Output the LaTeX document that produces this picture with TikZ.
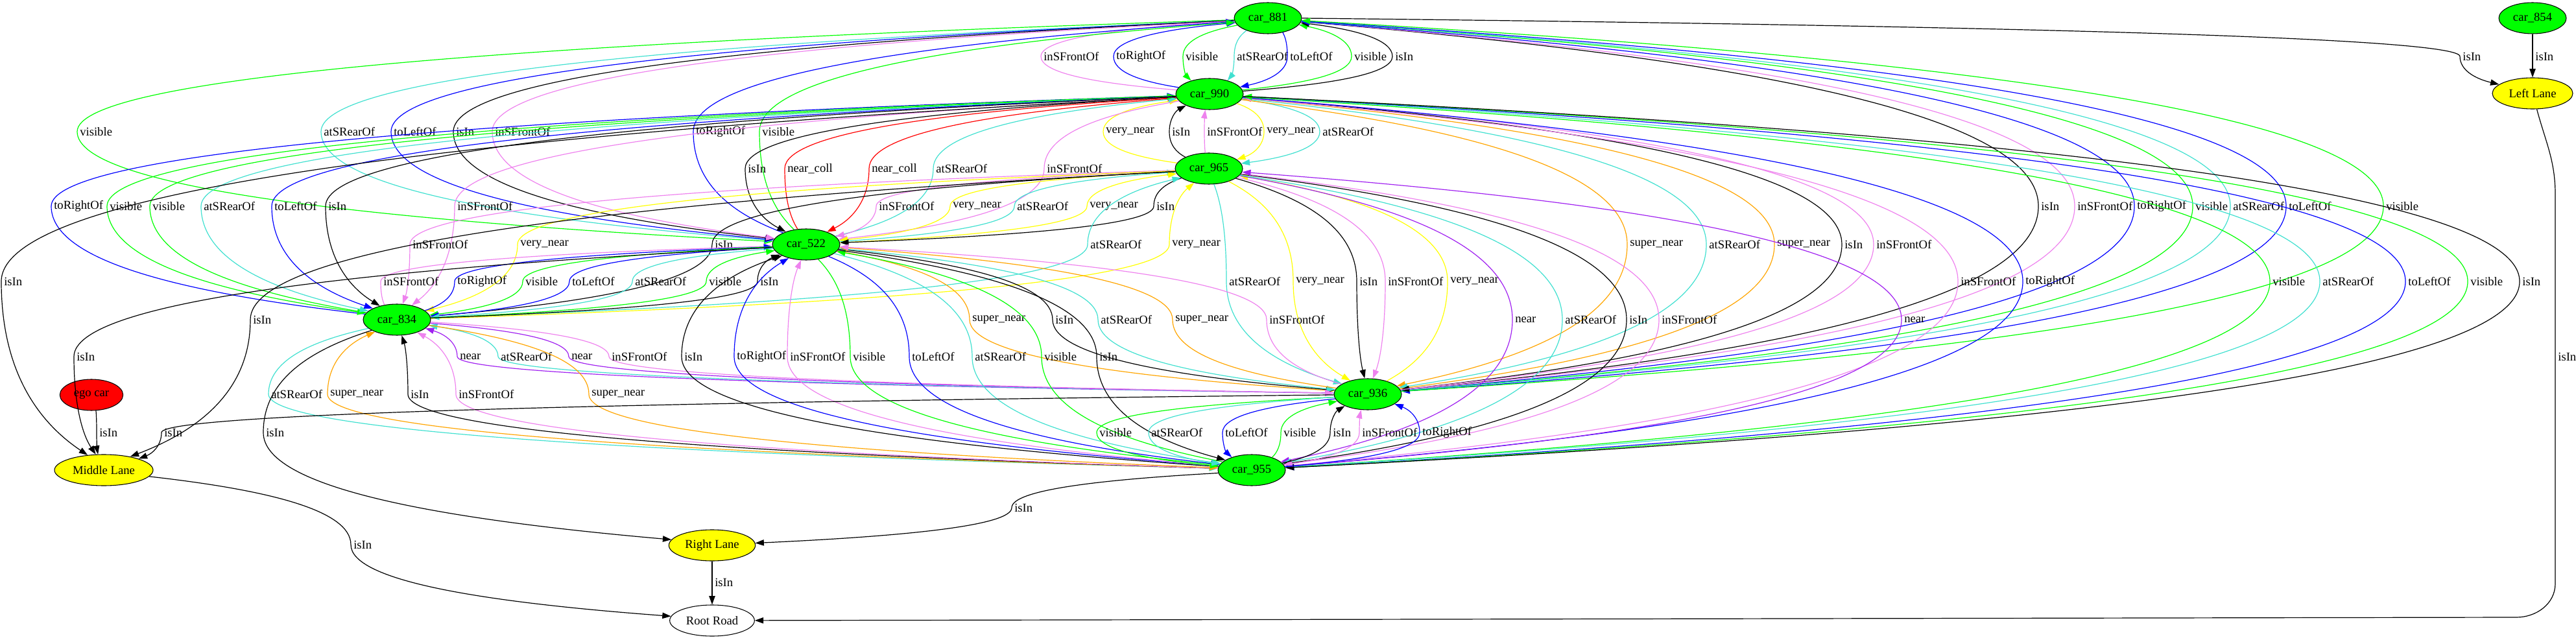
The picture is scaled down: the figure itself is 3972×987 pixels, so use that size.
\documentclass[tikz,border=0pt]{standalone}
\usepackage{fontspec}
\setmainfont{Liberation Serif}
\usetikzlibrary{arrows.meta,shapes.geometric,calc}
\definecolor{gvgreen}{HTML}{00FF00}
\definecolor{gvblue}{HTML}{0000FF}
\definecolor{gvturq}{HTML}{40E0D0}
\definecolor{gvviolet}{HTML}{EE82EE}
\definecolor{gvpurple}{HTML}{A020F0}
\definecolor{gvyellow}{HTML}{FFFF00}
\definecolor{gvorange}{HTML}{FFA500}
\definecolor{gvred}{HTML}{FF0000}
\tikzset{
  carnode/.style={ellipse, draw, line width=0.8pt, fill=gvgreen, minimum width=78pt, minimum height=36pt, inner sep=0pt},
  lanenode/.style={carnode, fill=gvyellow},
  egonode/.style={carnode, fill=gvred},
  roadnode/.style={carnode, fill=white},
  relline/.style={line width=0.9pt, -{Triangle[length=10pt,width=7pt]}},
  rellabel/.style={anchor=west, inner sep=0pt}
}
% colour, from, to, label x, label y, label
\newcommand{\sgrel}[6]{%
  \draw[relline, #1] let \p1=(#2), \p2=(#4-4,#5), \p3=(#3),
    \n1={atan2(0.5*(\y2-\y1),\x2-\x1)}, \n2={atan2(0.5*(\y2-\y3),\x2-\x3)},
    \p4=(#2.\n1), \p5=(#3.\n2) in
    (\p4) .. controls ({\x4+0.6*(\x2-\x4)},{\y4+0.2*(\y2-\y4)})
      and (\x2,{\y2+0.5*(\y4-\y2)}) .. (\p2)
    .. controls (\x2,{\y2+0.5*(\y5-\y2)})
      and ({\x5+0.6*(\x2-\x5)},{\y5+0.2*(\y2-\y5)}) .. (\p5);
  \node[rellabel] (lb-#4-#5) at (#4,#5) {#6};
}

\begin{document}
\begin{tikzpicture}[x=0.75pt, y=-0.75pt, font=\fontsize{14}{16}\selectfont]
  \useasboundingbox (0,0) rectangle (3972,987);
  \node[carnode] (c881) at (1955,28) {car\_881};
  \node[carnode] (c854) at (3905,28) {car\_854};
  \node[carnode] (c990) at (1865,145) {car\_990};
  \node[lanenode, minimum width=93pt] (leftlane) at (3905,144) {Left Lane};
  \node[carnode] (c965) at (1864,260) {car\_965};
  \node[carnode] (c522) at (1243,377) {car\_522};
  \node[carnode] (c834) at (612,493) {car\_834};
  \node[egonode, minimum width=73pt] (ego) at (141,609) {ego car};
  \node[carnode] (c936) at (2109,608) {car\_936};
  \node[lanenode, minimum width=114pt] (midlane) at (160,725) {Middle Lane};
  \node[carnode] (c955) at (1930,725) {car\_955};
  \node[lanenode, minimum width=100pt] (rightlane) at (1098,841) {Right Lane};
  \node[roadnode, minimum width=98pt] (rootroad) at (1098,957) {Root Road};

  \sgrel{gvviolet}{c990}{c881}{1609}{87}{inSFrontOf}
  \sgrel{gvblue}{c990}{c881}{1721}{87}{toRightOf}
  \sgrel{gvgreen}{c881}{c990}{1828}{87}{visible}
  \sgrel{gvturq}{c881}{c990}{1907}{87}{atSRearOf}
  \sgrel{gvblue}{c881}{c990}{1989}{87}{toLeftOf}
  \sgrel{gvgreen}{c990}{c881}{2088}{87}{visible}
  \sgrel{black}{c990}{c881}{2151}{87}{isIn}
  \sgrel{black}{c881}{leftlane}{3797}{87}{isIn}
  \sgrel{black}{c854}{leftlane}{3909}{87}{isIn}

  \sgrel{gvgreen}{c881}{c522}{123}{203}{visible}
  \sgrel{gvturq}{c881}{c522}{499}{203}{atSRearOf}
  \sgrel{gvblue}{c881}{c522}{607}{203}{toLeftOf}
  \sgrel{black}{c881}{c522}{703}{203}{isIn}
  \sgrel{gvviolet}{c881}{c522}{763}{203}{inSFrontOf}
  \sgrel{gvblue}{c522}{c881}{1073}{203}{toRightOf}
  \sgrel{gvgreen}{c522}{c881}{1175}{203}{visible}
  \sgrel{gvyellow}{c965}{c990}{1705}{203}{very\_near}
  \sgrel{black}{c965}{c990}{1807}{203}{isIn}
  \sgrel{gvviolet}{c965}{c990}{1861}{203}{inSFrontOf}
  \sgrel{gvyellow}{c990}{c965}{1953}{203}{very\_near}
  \sgrel{gvturq}{c990}{c965}{2039}{203}{atSRearOf}

  \sgrel{black}{c990}{c522}{1153}{260}{isIn}
  \sgrel{gvred}{c522}{c990}{1214}{260}{near\_coll}
  \sgrel{gvred}{c990}{c522}{1344}{260}{near\_coll}
  \sgrel{gvturq}{c522}{c990}{1443}{260}{atSRearOf}
  \sgrel{gvviolet}{c990}{c522}{1614}{260}{inSFrontOf}

  \sgrel{gvblue}{c834}{c990}{83}{318}{toRightOf}
  \sgrel{gvgreen}{c990}{c834}{169}{318}{visible}
  \sgrel{gvgreen}{c834}{c990}{235}{318}{visible}
  \sgrel{gvturq}{c990}{c834}{314}{318}{atSRearOf}
  \sgrel{gvblue}{c990}{c834}{423}{318}{toLeftOf}
  \sgrel{black}{c990}{c834}{506}{318}{isIn}
  \sgrel{gvviolet}{c990}{c834}{705}{318}{inSFrontOf}
  \sgrel{gvviolet}{c965}{c522}{1355}{318}{inSFrontOf}
  \sgrel{gvyellow}{c965}{c522}{1469}{318}{very\_near}
  \sgrel{gvturq}{c522}{c965}{1568}{318}{atSRearOf}
  \sgrel{gvyellow}{c522}{c965}{1680}{318}{very\_near}
  \sgrel{black}{c965}{c522}{1783}{318}{isIn}
  \sgrel{black}{c881}{c936}{3147}{318}{isIn}
  \sgrel{gvviolet}{c881}{c936}{3203}{318}{inSFrontOf}
  \sgrel{gvblue}{c936}{c881}{3295}{318}{toRightOf}
  \sgrel{gvgreen}{c881}{c936}{3385}{318}{visible}
  \sgrel{gvturq}{c881}{c936}{3443}{318}{atSRearOf}
  \sgrel{gvblue}{c881}{c936}{3529}{318}{toLeftOf}
  \sgrel{gvgreen}{c936}{c881}{3679}{318}{visible}

  \sgrel{gvviolet}{c965}{c834}{636}{377}{inSFrontOf}
  \sgrel{gvyellow}{c965}{c834}{802}{377}{very\_near}
  \sgrel{black}{c965}{c834}{1102}{377}{isIn}
  \sgrel{gvturq}{c834}{c965}{1681}{377}{atSRearOf}
  \sgrel{gvyellow}{c834}{c965}{1807}{377}{very\_near}
  \sgrel{gvorange}{c990}{c936}{2513}{377}{super\_near}
  \sgrel{gvturq}{c990}{c936}{2635}{377}{atSRearOf}
  \sgrel{gvorange}{c936}{c990}{2740}{377}{super\_near}
  \sgrel{black}{c990}{c936}{2844}{377}{isIn}
  \sgrel{gvviolet}{c936}{c990}{2893}{377}{inSFrontOf}

  \sgrel{black}{c990}{midlane}{6}{434}{isIn}
  \sgrel{gvviolet}{c834}{c522}{591}{434}{inSFrontOf}
  \sgrel{gvblue}{c834}{c522}{705}{434}{toRightOf}
  \sgrel{gvgreen}{c522}{c834}{810}{434}{visible}
  \sgrel{gvblue}{c522}{c834}{882}{434}{toLeftOf}
  \sgrel{gvturq}{c522}{c834}{979}{434}{atSRearOf}
  \sgrel{gvgreen}{c834}{c522}{1093}{434}{visible}
  \sgrel{black}{c834}{c522}{1172}{434}{isIn}
  \sgrel{gvturq}{c965}{c936}{1895}{434}{atSRearOf}
  \sgrel{gvyellow}{c965}{c936}{1998}{434}{very\_near}
  \sgrel{black}{c965}{c936}{2096}{434}{isIn}
  \sgrel{gvviolet}{c965}{c936}{2140}{434}{inSFrontOf}
  \sgrel{gvyellow}{c936}{c965}{2236}{434}{very\_near}
  \sgrel{gvviolet}{c990}{c955}{3023}{434}{inSFrontOf}
  \sgrel{gvblue}{c990}{c955}{3123}{434}{toRightOf}
  \sgrel{gvgreen}{c990}{c955}{3504}{434}{visible}
  \sgrel{gvturq}{c990}{c955}{3581}{434}{atSRearOf}
  \sgrel{gvblue}{c990}{c955}{3713}{434}{toLeftOf}
  \sgrel{gvgreen}{c955}{c990}{3809}{434}{visible}
  \sgrel{black}{c990}{c955}{3889}{434}{isIn}

  \sgrel{black}{c965}{midlane}{390}{493}{isIn}
  \sgrel{gvorange}{c522}{c936}{1499}{493}{super\_near}
  \sgrel{black}{c522}{c936}{1627}{493}{isIn}
  \sgrel{gvturq}{c522}{c936}{1697}{493}{atSRearOf}
  \sgrel{gvorange}{c936}{c522}{1812}{493}{super\_near}
  \sgrel{gvviolet}{c936}{c522}{1957}{493}{inSFrontOf}
  \sgrel{gvpurple}{c965}{c955}{2336}{493}{near}
  \sgrel{gvturq}{c965}{c955}{2413}{493}{atSRearOf}
  \sgrel{black}{c965}{c955}{2512}{493}{isIn}
  \sgrel{gvviolet}{c965}{c955}{2562}{493}{inSFrontOf}
  \sgrel{gvpurple}{c955}{c965}{2936}{493}{near}

  \sgrel{black}{c522}{midlane}{118}{550}{isIn}
  \sgrel{gvpurple}{c936}{c834}{709}{550}{near}
  \sgrel{gvturq}{c936}{c834}{772}{550}{atSRearOf}
  \sgrel{gvpurple}{c834}{c936}{881}{550}{near}
  \sgrel{gvviolet}{c834}{c936}{943}{550}{inSFrontOf}
  \sgrel{black}{c955}{c522}{1055}{550}{isIn}
  \sgrel{gvblue}{c955}{c522}{1136}{550}{toRightOf}
  \sgrel{gvviolet}{c955}{c522}{1218}{550}{inSFrontOf}
  \sgrel{gvgreen}{c522}{c955}{1315}{550}{visible}
  \sgrel{gvblue}{c522}{c955}{1406}{550}{toLeftOf}
  \sgrel{gvturq}{c522}{c955}{1503}{550}{atSRearOf}
  \sgrel{gvgreen}{c955}{c522}{1610}{550}{visible}
  \sgrel{black}{c522}{c955}{1695}{550}{isIn}
  \draw[relline] (leftlane) to[out=-75,in=90] (3940,300) -- (3940,900)
    to[out=-90,in=0] (3880,952) -- (rootroad);
  \node[rellabel] (lb-left-root) at (3944,550) {isIn};

  \sgrel{gvturq}{c834}{c955}{418}{608}{atSRearOf}
  \sgrel{gvorange}{c955}{c834}{509}{608}{super\_near}
  \sgrel{black}{c955}{c834}{633}{608}{isIn}
  \sgrel{gvviolet}{c955}{c834}{707}{608}{inSFrontOf}
  \sgrel{gvorange}{c834}{c955}{912}{608}{super\_near}

  \sgrel{black}{ego}{midlane}{153}{667}{isIn}
  \sgrel{black}{c936}{midlane}{253}{667}{isIn}
  \sgrel{black}{c834}{rightlane}{410}{667}{isIn}
  \sgrel{gvgreen}{c936}{c955}{1695}{667}{visible}
  \sgrel{gvturq}{c936}{c955}{1775}{667}{atSRearOf}
  \sgrel{gvblue}{c936}{c955}{1889}{667}{toLeftOf}
  \sgrel{gvgreen}{c955}{c936}{1979}{667}{visible}
  \sgrel{black}{c955}{c936}{2055}{667}{isIn}
  \sgrel{gvviolet}{c955}{c936}{2100}{667}{inSFrontOf}
  \sgrel{gvblue}{c955}{c936}{2193}{667}{toRightOf}

  \sgrel{black}{c955}{rightlane}{1564}{783}{isIn}
  \sgrel{black}{midlane}{rootroad}{545}{840}{isIn}
  \sgrel{black}{rightlane}{rootroad}{1102}{898}{isIn}
\end{tikzpicture}
\end{document}
